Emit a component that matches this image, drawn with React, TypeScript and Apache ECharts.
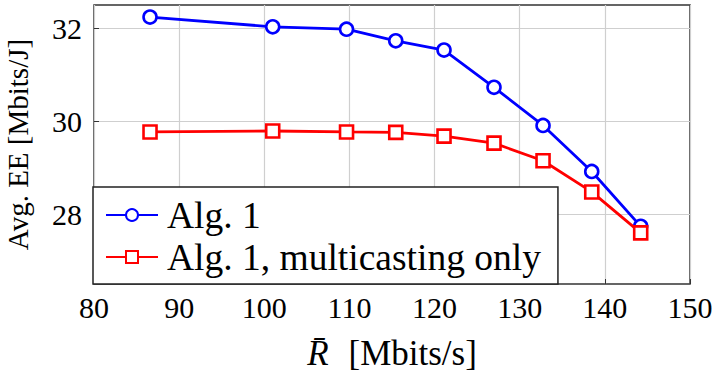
import React, { useEffect, useRef } from "react";
import * as echarts from "echarts";

const rateX = [86.58, 100.99, 109.66, 115.44, 121.11, 126.98, 132.74, 138.46, 144.21];
const alg1 = [32.24, 32.03, 31.98, 31.73, 31.53, 30.73, 29.91, 28.92, 27.74];
const alg1Multicast = [29.77, 29.79, 29.77, 29.76, 29.68, 29.53, 29.15, 28.48, 27.6];
const xTicks = [80, 90, 100, 110, 120, 130, 140, 150];
const yTicks = [28, 30, 32];
const seriesNames = ["Alg. 1", "Alg. 1, multicasting only"];

const FONT = "Liberation Serif, serif";

export default function App() {
  const ref = useRef<HTMLDivElement>(null);
  useEffect(() => {
    if (!ref.current) return;
    const chart = echarts.init(ref.current, null, { renderer: "svg" });
    const pair = (ys: number[]) => rateX.map((x, i) => [x, ys[i]]);
    chart.setOption({
      animation: false,
      textStyle: { fontFamily: FONT, color: "#000" },
      grid: {
        left: 94,
        right: 24,
        top: 5,
        bottom: 92,
        show: true,
        borderColor: "#333",
        borderWidth: 1.5,
        backgroundColor: "transparent",
        containLabel: false,
        outerBoundsMode: "none",
      },
      legend: {
        orient: "vertical",
        left: 93,
        top: 187,
        padding: [9, 17, 8, 12],
        itemGap: 4,
        itemWidth: 52,
        itemHeight: 15,
        backgroundColor: "#fff",
        borderColor: "#222",
        borderWidth: 1.5,
        textStyle: { fontFamily: FONT, fontSize: 37.5, color: "#000", padding: [0, 0, 0, 4] },
        data: seriesNames,
      },
      xAxis: {
        type: "value",
        min: xTicks[0],
        max: xTicks[xTicks.length - 1],
        interval: 10,
        name: "{r|R̄}{g| }[Mbits/s]",
        nameLocation: "middle",
        nameGap: 52,
        nameTextStyle: {
          fontFamily: FONT,
          fontSize: 35,
          color: "#000",
          rich: {
            r: { fontFamily: FONT, fontSize: 35, fontStyle: "italic", color: "#000" },
            g: { fontFamily: FONT, fontSize: 35, color: "#000", width: 20 },
          },
        },
        axisLine: { show: false },
        axisTick: { show: true, inside: true, length: 5, lineStyle: { color: "#333" } },
        axisLabel: { fontFamily: FONT, fontSize: 30, color: "#000", margin: 8 },
        splitLine: { show: true, lineStyle: { color: "#cfcfcf", width: 1.2 } },
      },
      yAxis: {
        type: "value",
        min: 26.5,
        max: 32.5,
        name: "Avg. EE [Mbits/J]",
        nameLocation: "middle",
        nameGap: 62,
        nameTextStyle: { fontFamily: FONT, fontSize: 29, color: "#000" },
        axisLine: { show: false },
        axisTick: { show: true, inside: true, length: 5, customValues: yTicks, lineStyle: { color: "#333" } },
        axisLabel: { fontFamily: FONT, fontSize: 30, color: "#000", margin: 12, customValues: yTicks },
        splitLine: { show: true, lineStyle: { color: "#cfcfcf", width: 1.2 } },
      },
      series: [
        {
          name: seriesNames[0],
          type: "line",
          data: pair(alg1),
          symbol: "circle",
          symbolSize: 13,
          color: "#0000ff",
          lineStyle: { width: 2.8, color: "#0000ff" },
          itemStyle: { color: "#fff", borderColor: "#0000ff", borderWidth: 2.6 },
          z: 3,
        },
        {
          name: seriesNames[1],
          type: "line",
          data: pair(alg1Multicast),
          symbol: "rect",
          symbolSize: 13,
          color: "#ff0000",
          lineStyle: { width: 2.8, color: "#ff0000" },
          itemStyle: { color: "#fff", borderColor: "#ff0000", borderWidth: 2.6 },
          z: 4,
        },
      ],
    });
    return () => chart.dispose();
  }, []);
  return (
    <div
      ref={ref}
      style={{ position: "fixed", left: 0, top: 0, width: 714, height: 376, background: "#fff" }}
    />
  );
}
